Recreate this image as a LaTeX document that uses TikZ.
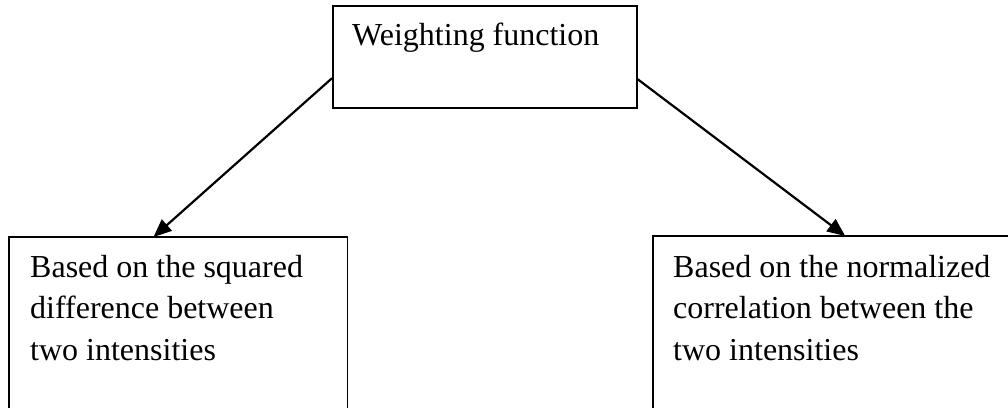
\documentclass[tikz,border=0pt]{standalone}
\usepackage{fontspec}
\setmainfont{Liberation Serif}
\usetikzlibrary{arrows.meta,calc}
\begin{document}
\begin{tikzpicture}[x=1pt,y=-1pt,
  box/.style={draw=black,line width=1.7pt,fill=none,inner sep=0pt,anchor=north west},
  openbox/.style={inner sep=0pt,anchor=north west},
  edge/.style={draw=black,line width=1.7pt},
  lbl/.style={inner sep=0pt,anchor=base west,font=\fontsize{32}{41.5}\selectfont},
  conn/.style={line width=2.2pt,-{Triangle[length=18pt,width=15pt]}}]
\useasboundingbox (0,0) rectangle (1008,407);
\fill[white] (0,0) rectangle (1008,407);
\node[box,minimum width=304pt,minimum height=102pt] (top) at (332,5) {};
\node[openbox,minimum width=338pt,minimum height=172pt] (left) at (9,237) {};
\node[openbox,minimum width=355pt,minimum height=172pt] (right) at (653,236) {};
\path[edge] (left.south west) -- (left.north west) -- (left.north east) -- (left.south east);
\path[edge] (right.south west) -- (right.north west) -- (right.north east);
\node[lbl] (toptext) at (352,45) {Weighting function};
\node[lbl] (lefttext) at (30,277) {\begin{tabular}[t]{@{}l@{}}Based on the squared\\difference between\\two intensities\end{tabular}};
\node[lbl] (righttext) at (673,277) {\begin{tabular}[t]{@{}l@{}}Based on the normalized\\correlation between the\\two intensities\end{tabular}};
\draw[conn] ($(top.north west)!0.706!(top.south west)$) -- ($(left.north west)!0.427!(left.north east)$);
\draw[conn] ($(top.north east)!0.716!(top.south east)$) -- ($(right.north west)!0.541!(right.north east)$);
\end{tikzpicture}
\end{document}
